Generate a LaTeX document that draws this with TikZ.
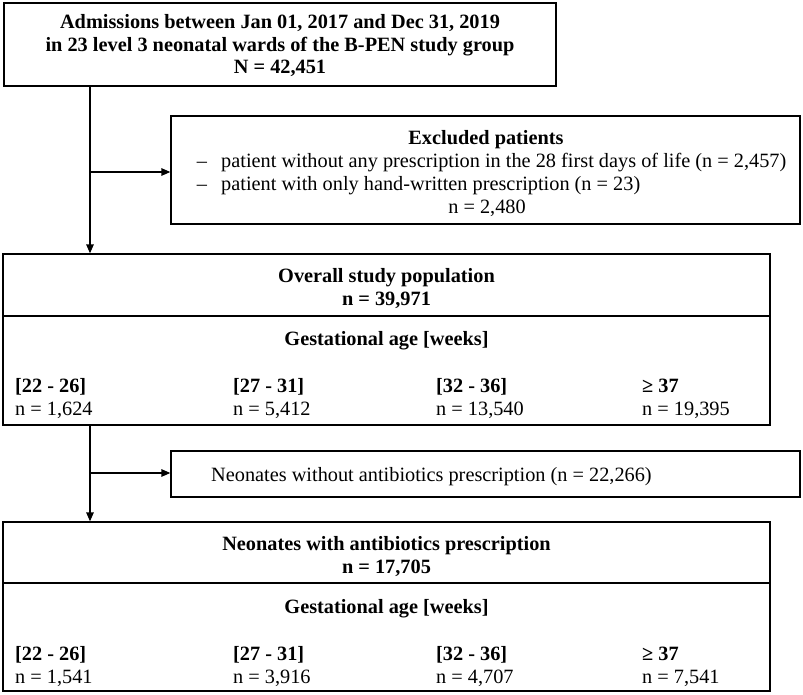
\documentclass[tikz,border=0pt]{standalone}
\usepackage{fontspec}
\setmainfont{Liberation Serif}
\usetikzlibrary{arrows.meta}
\begin{document}
\begin{tikzpicture}[x=1pt,y=-1pt,
  box/.style={draw, line width=1.3pt, rectangle, inner sep=0pt},
  txt/.style={inner sep=0pt, font=\fontsize{20.3}{23}\selectfont},
  btxt/.style={inner sep=0pt, font=\fontsize{20.3}{23}\selectfont\bfseries},
  arr/.style={line width=1.3pt, -{Triangle[length=9pt,width=7.5pt]}},
  ln/.style={line width=1.3pt}]
\useasboundingbox (0,0) rectangle (803,694);

% top box
\node[box, minimum width=552pt, minimum height=83pt] (top) at (280,44.5) {};
\node[btxt, anchor=base] (t1) at (280,28.5) {Admissions between Jan 01, 2017 and Dec 31, 2019};
\node[btxt, anchor=base] (t2) at (280,51) {in 23 level 3 neonatal wards of the B-PEN study group};
\node[btxt, anchor=base] (t3) at (280,73.5) {N = 42,451};

% excluded box
\node[box, minimum width=629pt, minimum height=108pt] (excl) at (485.5,170) {};
\node[btxt, anchor=base] (e0) at (486,144) {Excluded patients};
\node[txt, anchor=base] (ed1) at (202,167) {–};
\node[txt, anchor=base west] (e1) at (221,167) {patient without any prescription in the 28 first days of life (n = 2,457)};
\node[txt, anchor=base] (ed2) at (202,190) {–};
\node[txt, anchor=base west] (e2) at (221,190) {patient with only hand-written prescription (n = 23)};
\node[txt, anchor=base] (e3) at (487,213) {n = 2,480};

% overall box
\node[box, minimum width=767pt, minimum height=171pt] (overall) at (386.5,339.5) {};
\coordinate (d1) at (0,316);
\draw[ln] (overall.west |- d1) -- (overall.east |- d1);
\node[btxt, anchor=base] (o1) at (386.5,282) {Overall study population};
\node[btxt, anchor=base] (o2) at (386.5,305) {n = 39,971};
\node[btxt, anchor=base] (o3) at (386.5,345) {Gestational age [weeks]};
\node[btxt, anchor=base west] (oa1) at (15,392) {[22 - 26]};
\node[txt, anchor=base west] (ob1) at (15,415) {n = 1,624};
\node[btxt, anchor=base west] (oa2) at (233,392) {[27 - 31]};
\node[txt, anchor=base west] (ob2) at (233,415) {n = 5,412};
\node[btxt, anchor=base west] (oa3) at (436,392) {[32 - 36]};
\node[txt, anchor=base west] (ob3) at (436,415) {n = 13,540};
\node[btxt, anchor=base west] (oa4) at (642,392) {≥ 37};
\node[txt, anchor=base west] (ob4) at (642,415) {n = 19,395};

% neonates without
\node[box, minimum width=629pt, minimum height=46pt] (neowo) at (485.5,474) {};
\node[txt, anchor=base west] (nw) at (211,481) {Neonates without antibiotics prescription (n = 22,266)};

% neonates with
\node[box, minimum width=767pt, minimum height=169pt] (neowith) at (386.5,606.5) {};
\coordinate (d2) at (0,583);
\draw[ln] (neowith.west |- d2) -- (neowith.east |- d2);
\node[btxt, anchor=base] (n1) at (386.5,550) {Neonates with antibiotics prescription};
\node[btxt, anchor=base] (n2) at (386.5,573) {n = 17,705};
\node[btxt, anchor=base] (n3) at (386.5,613) {Gestational age [weeks]};
\node[btxt, anchor=base west] (na1) at (15,660) {[22 - 26]};
\node[txt, anchor=base west] (nb1) at (15,683) {n = 1,541};
\node[btxt, anchor=base west] (na2) at (233,660) {[27 - 31]};
\node[txt, anchor=base west] (nb2) at (233,683) {n = 3,916};
\node[btxt, anchor=base west] (na3) at (436,660) {[32 - 36]};
\node[txt, anchor=base west] (nb3) at (436,683) {n = 4,707};
\node[btxt, anchor=base west] (na4) at (642,660) {≥ 37};
\node[txt, anchor=base west] (nb4) at (642,683) {n = 7,541};

% connectors
\coordinate (c1) at (90,0);
\coordinate (b1) at (0,172);
\coordinate (b2) at (0,473);
\draw[arr] (top.south -| c1) -- (overall.north -| c1);
\draw[arr] (c1 |- b1) -- (excl.west |- b1);
\draw[arr] (overall.south -| c1) -- (neowith.north -| c1);
\draw[arr] (c1 |- b2) -- (neowo.west |- b2);
\end{tikzpicture}
\end{document}
